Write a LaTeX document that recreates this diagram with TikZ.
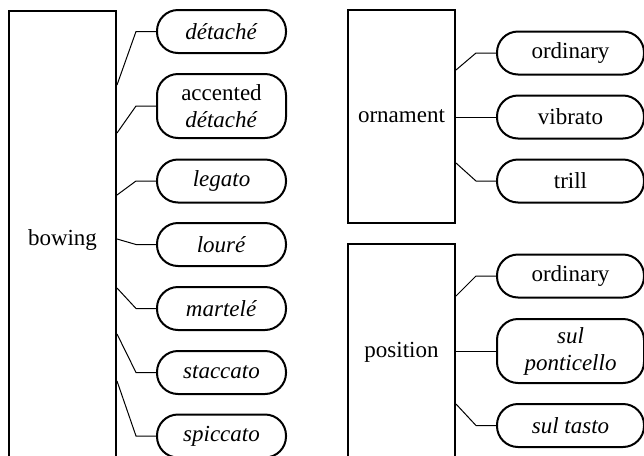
\documentclass[tikz,border=0pt]{standalone}
\usepackage{fontspec}
\setmainfont{Liberation Serif}
\usetikzlibrary{positioning}

\tikzset{
  catbox/.style={draw, line width=1pt, minimum width=53.5pt, inner sep=0pt,
    font=\fontsize{11.5}{13.5}\selectfont},
  pill/.style={draw, line width=1pt, rounded corners=10.5pt, minimum width=64.5pt,
    minimum height=21.5pt, inner sep=0pt, align=center,
    font=\fontsize{11.5}{13.5}\selectfont},
  widepill/.style={pill, minimum width=73.5pt},
  link/.style={line width=0.5pt}
}

\begin{document}
\begin{tikzpicture}[x=0.5pt,y=-0.5pt]
\useasboundingbox (0,0) rectangle (644,456);

%Category boxes
\node[catbox, minimum height=229pt] (bowing) at (62.5,240) {bowing};
\node[catbox, minimum height=106.5pt] (ornament) at (401.5,116.5) {ornament};
\node[catbox, minimum height=108pt] (position) at (401.5,352) {position};

%Bowing values
\node[pill] (detache) at (221.5,31.5) {\textit{détaché}};
\node[pill, minimum height=32pt] (accented) at (221.5,106) {accented\\\textit{détaché}};
\node[pill] (legato) at (221.5,181) {\textit{legato}};
\node[pill] (loure) at (221.5,244.5) {\textit{louré}};
\node[pill] (martele) at (221.5,308.5) {\textit{martelé}};
\node[pill] (staccato) at (221.5,372.5) {\textit{staccato}};
\node[pill] (spiccato) at (221.5,436) {\textit{spiccato}};

%Ornament values
\node[widepill] (ordinaryO) at (570.5,53) {ordinary};
\node[widepill] (vibrato) at (570.5,117) {vibrato};
\node[widepill] (trill) at (570.5,181) {trill};

%Position values
\node[widepill] (ordinaryP) at (570.5,276) {ordinary};
\node[widepill, minimum height=32pt] (ponticello) at (570.5,351) {\textit{sul}\\\textit{ponticello}};
\node[widepill] (tasto) at (570.5,425.5) {\textit{sul tasto}};

%Links
\draw[link] (bowing.east |- 0,85) -- ([xshift=-10pt]detache.west) -- (detache.west);
\draw[link] (bowing.east |- 0,133) -- ([xshift=-10pt]accented.west) -- (accented.west);
\draw[link] (bowing.east |- 0,195) -- ([xshift=-10pt]legato.west) -- (legato.west);
\draw[link] (bowing.east |- 0,239) -- ([xshift=-10pt]loure.west) -- (loure.west);
\draw[link] (bowing.east |- 0,288) -- ([xshift=-10pt]martele.west) -- (martele.west);
\draw[link] (bowing.east |- 0,334) -- ([xshift=-10pt]staccato.west) -- (staccato.west);
\draw[link] (bowing.east |- 0,381) -- ([xshift=-10pt]spiccato.west) -- (spiccato.west);

\draw[link] (ornament.east |- 0,70) -- ([xshift=-10pt]ordinaryO.west) -- (ordinaryO.west);
\draw[link] (ornament.east |- vibrato) -- (vibrato.west);
\draw[link] (ornament.east |- 0,163) -- ([xshift=-10pt]trill.west) -- (trill.west);

\draw[link] (position.east |- 0,296) -- ([xshift=-10pt]ordinaryP.west) -- (ordinaryP.west);
\draw[link] (position.east |- ponticello) -- (ponticello.west);
\draw[link] (position.east |- 0,404) -- ([xshift=-10pt]tasto.west) -- (tasto.west);

\end{tikzpicture}
\end{document}
